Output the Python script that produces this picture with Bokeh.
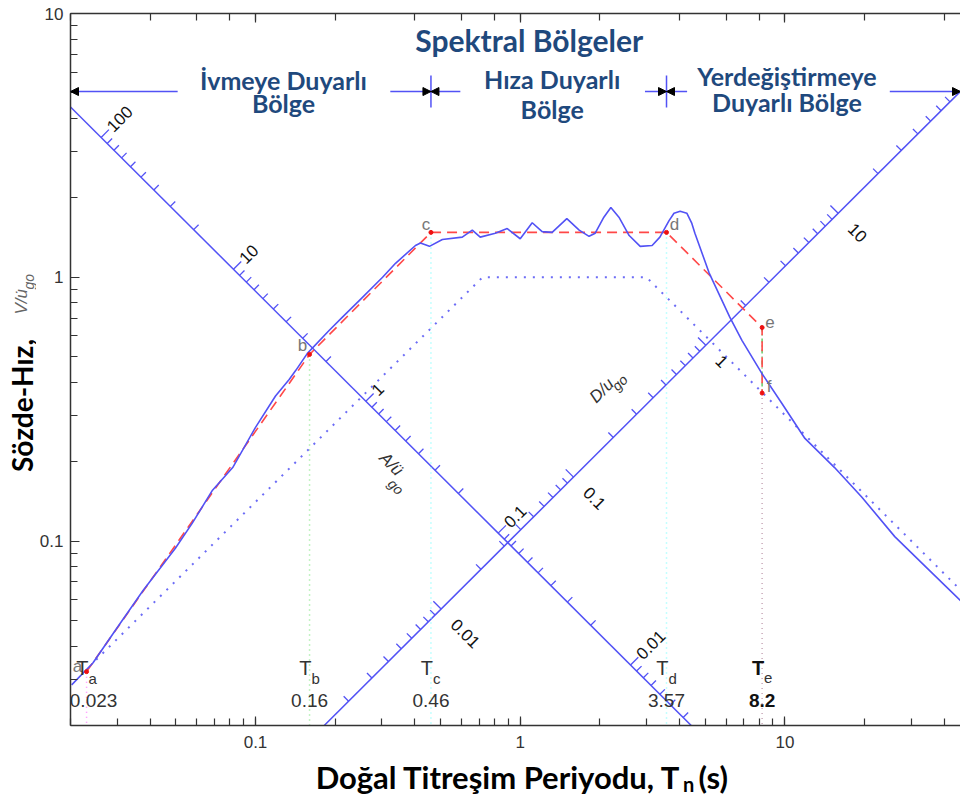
import math
from bokeh.plotting import figure
from bokeh.layouts import row, column
from bokeh.models import LogAxis, Arrow, NormalHead, CustomJSTickFormatter, Range1d
from bokeh.core.properties import value
from bokeh.embed import file_html
from bokeh.resources import INLINE

# ---------------- data ----------------
spec_T = [0.0202, 0.0243, 0.0296, 0.0376, 0.0498, 0.0577, 0.0688, 0.082, 0.100, 0.119,
          0.134, 0.142, 0.157, 0.190, 0.213, 0.247, 0.302, 0.338, 0.402, 0.420,
          0.454, 0.508, 0.604, 0.659, 0.706, 0.805, 0.893, 1.00, 1.11, 1.21,
          1.32, 1.50, 1.67, 1.82, 1.92, 2.07, 2.20, 2.36, 2.58, 2.84,
          3.15, 3.37, 3.65, 3.81, 4.02, 4.26, 4.45, 4.57, 5.17, 6.19,
          6.88, 8.17, 9.73, 11.9, 15.4, 19.5, 26.0, 34.9, 46.7]
spec_V = [0.0285, 0.0345, 0.046, 0.065, 0.094, 0.117, 0.156, 0.19, 0.27, 0.355,
          0.41, 0.444, 0.515, 0.63, 0.706, 0.818, 1.00, 1.13, 1.32, 1.35,
          1.31, 1.39, 1.42, 1.51, 1.42, 1.47, 1.53, 1.40, 1.61, 1.49,
          1.48, 1.67, 1.51, 1.43, 1.47, 1.69, 1.84, 1.69, 1.44, 1.31,
          1.32, 1.42, 1.64, 1.75, 1.78, 1.75, 1.60, 1.47, 1.04, 0.706,
          0.577, 0.433, 0.333, 0.245, 0.19, 0.147, 0.104, 0.078, 0.0587]

ideal_T = [0.023, 0.16, 0.46, 3.57, 8.2, 8.2]
ideal_V = [0.032, 0.51, 1.48, 1.48, 0.645, 0.364]
ideal_names = ["a", "b", "c", "d", "e", "f"]

ground_T = [0.025, 0.72, 3.0, 47.0]
ground_V = [0.0355, 1.0, 1.0, 0.064]

period_sub = ["a", "b", "c", "d", "e"]
period_T = [0.023, 0.16, 0.46, 3.57, 8.2]
period_txt = ["0.023", "0.16", "0.46", "3.57", "8.2"]
period_colors = ["#ff88ff", "#88e888", "#88ffff", "#88ffff", "#c8a8b8"]

A_line_const = 0.0885   # V*T along the A axis
A_scale = 0.77          # A = A_scale * V / T
D_line_const = 0.110    # V/T along the D axis
D_scale = 0.36          # D = D_scale * V * T
A_major = [100, 10, 1, 0.1, 0.01]
D_major = [0.01, 0.1, 1, 10]

region_V = 5.06
region_bounds = [0.46, 3.57]
region_gap_lo = [0.0508, 0.594, 4.27]
region_gap_hi = [0.323, 2.96, 24.9]

x_title = ["Doğal Titreşim Periyodu, T", "n", "(s)"]
y_title = ["Sözde-Hız,", "V/u\u0307", "go"]

# ---------------- geometry ----------------
TOT_W, TOT_H = 960, 796
LW = 36                 # left strip (y title)
BH = 38                 # bottom strip (x title)
MW, MH = TOT_W - LW, TOT_H - BH
ML, MR, MT, MB = 33, 0, 13, 33
FW, FH = MW - ML - MR, MH - MT - MB
PXX = 265.0
X0 = 0.02
X1 = X0 * 10 ** (FW / PXX)
Y0, Y1 = 0.02, 10.0
PXY = FH / math.log10(Y1 / Y0)
R2 = math.sqrt(2.0)


def shift(t, v, dx, dy):
    return t * 10 ** (dx / PXX), v * 10 ** (-dy / PXY)


def ref(xp, yp):
    return 10 ** ((xp - 518) / 265.0), 10 ** ((277 - yp) / 264.0)


BLUE = "#5252f5"
HEAD = "#1F497D"
NUMF = value("Liberation Sans")
HF = value("Lato")

p = figure(x_axis_type="log", y_axis_type="log", x_range=(X0, X1), y_range=(Y0, Y1),
           width=MW, height=MH, min_border_left=ML, min_border_right=MR,
           min_border_top=MT, min_border_bottom=MB, output_backend="svg",
           toolbar_location=None)
p.outline_line_color = None
p.grid.visible = False

fmt = CustomJSTickFormatter(code="return String(parseFloat(tick.toPrecision(6)));")
for ax in (p.xaxis[0], p.yaxis[0]):
    ax.formatter = fmt
    ax.major_tick_in = 9
    ax.major_tick_out = 0
    ax.minor_tick_in = 7
    ax.minor_tick_out = 0
    ax.axis_line_color = "#333333"
    ax.axis_line_width = 1.5
    ax.major_tick_line_color = "#333333"
    ax.minor_tick_line_color = "#333333"
    ax.major_tick_line_width = 1.2
    ax.minor_tick_line_width = 1.2
    ax.major_label_text_font = "Liberation Sans"
    ax.major_label_text_font_size = "17px"
    ax.major_label_text_color = "#333333"
p.xaxis[0].major_label_standoff = 10
p.yaxis[0].major_label_standoff = 7

top = LogAxis(major_tick_in=9, major_tick_out=0, minor_tick_in=7, minor_tick_out=0,
              axis_line_color="#333333", axis_line_width=1.5,
              major_tick_line_color="#333333", minor_tick_line_color="#333333",
              major_tick_line_width=1.2, minor_tick_line_width=1.2,
              major_label_text_font_size="1px", major_label_text_color=None,
              major_label_standoff=0)
p.add_layout(top, "above")

# ---------------- tripartite axes ----------------
tA = [X0, 6.0]
p.line(tA, [A_line_const / t for t in tA], color=BLUE, line_width=1.5)
tD = [0.15, 60.0]
p.line(tD, [D_line_const * t for t in tD], color=BLUE, line_width=1.5)

ax0, ay0, ax1, ay1 = [], [], [], []
dx0, dy0, dx1, dy1 = [], [], [], []
for k in range(-4, 4):
    for m in range(1, 10):
        val = m * 10 ** k
        L = 11 if m == 1 else 7
        t = math.sqrt(A_scale * A_line_const / val)
        v = A_line_const / t
        if X0 <= t <= X1 and Y0 <= v <= Y1:
            e = shift(t, v, L / R2, -L / R2)
            ax0.append(t); ay0.append(v); ax1.append(e[0]); ay1.append(e[1])
        t = math.sqrt(val / (D_scale * D_line_const))
        v = D_line_const * t
        if X0 <= t <= X1 and Y0 <= v <= Y1:
            e = shift(t, v, -L / R2, -L / R2)
            dx0.append(t); dy0.append(v); dx1.append(e[0]); dy1.append(e[1])
p.segment(ax0, ay0, ax1, ay1, color=BLUE, line_width=1.3)
p.segment(dx0, dy0, dx1, dy1, color=BLUE, line_width=1.3)

alx, aly, alt = [], [], []
for a in A_major:
    t = math.sqrt(A_scale * A_line_const / a)
    v = A_line_const / t
    q = shift(t, v, 12 / R2, -12 / R2)
    alx.append(q[0]); aly.append(q[1]); alt.append(f"{a:g}")
p.text(alx, aly, text=alt, angle=math.pi / 4, text_align="left", text_baseline="middle",
       text_font=NUMF, text_font_size="17px", text_color="#111111")

dlx, dly, dlt = [], [], []
for d in D_major:
    t = math.sqrt(d / (D_scale * D_line_const))
    v = D_line_const * t
    q = shift(t, v, 18 / R2, 18 / R2)
    dlx.append(q[0]); dly.append(q[1]); dlt.append(f"{d:g}")
p.text(dlx, dly, text=dlt, angle=-math.pi / 4, text_align="left", text_baseline="middle",
       text_font=NUMF, text_font_size="17px", text_color="#111111")

pA1 = ref(398, 473); pA2 = ref(388, 481)
p.text([pA1[0]], [pA1[1]], text=["A/ü"], angle=-math.pi / 4, text_align="right",
       text_baseline="middle", text_font=NUMF, text_font_style="italic",
       text_font_size="17px", text_color="#333333")
p.text([pA2[0]], [pA2[1]], text=["go"], angle=-math.pi / 4, text_align="left",
       text_baseline="middle", text_font=NUMF, text_font_style="italic",
       text_font_size="14px", text_color="#333333")
pD1 = ref(609, 381); pD2 = ref(612, 388)
p.text([pD1[0]], [pD1[1]], text=["D/u"], angle=math.pi / 4, text_align="right",
       text_baseline="middle", text_font=NUMF, text_font_style="italic",
       text_font_size="17px", text_color="#333333")
p.text([pD2[0]], [pD2[1]], text=["go"], angle=math.pi / 4, text_align="left",
       text_baseline="middle", text_font=NUMF, text_font_style="italic",
       text_font_size="14px", text_color="#333333")

# ---------------- period markers ----------------
for i, tp in enumerate(period_T):
    vtop = ideal_V[i] if i < 4 else ideal_V[5]
    p.line([tp, tp], [vtop, Y0], color=period_colors[i], line_width=1.5, line_dash="1 4")
p.line([ideal_T[4], ideal_T[5]], [ideal_V[4], ideal_V[5]], color="#66cc66",
       line_width=1.5, line_dash="4 3 1 3")

p.line(ground_T, ground_V, color=BLUE, line_width=2, line_dash="2 7", line_alpha=0.85)
p.line(ideal_T, ideal_V, color="#ff4848", line_width=1.6, line_dash="10 6")
p.line(spec_T, spec_V, color=BLUE, line_width=1.6)
p.scatter(ideal_T, ideal_V, size=4, color="#ee1111")

let_off = [(-9, -5), (-7, -9), (-5, -8), (8, -8), (8, -6), (7, -7)]
lx, ly = [], []
for i in range(6):
    q = shift(ideal_T[i], ideal_V[i], let_off[i][0], let_off[i][1])
    lx.append(q[0]); ly.append(q[1])
p.text(lx, ly, text=ideal_names, text_align="center", text_baseline="middle",
       text_font=NUMF, text_font_size="17px", text_color="#777777")

yT = ref(0, 668)[1]
ySub = ref(0, 678)[1]
yVal = ref(0, 701)[1]
tx = [shift(t, 1, 2, 0)[0] for t in period_T]
val_dx = [7, 0, 0, 0, 0]
vx = [shift(t, 1, val_dx[i], 0)[0] for i, t in enumerate(period_T)]
p.text(tx[:4], [yT] * 4, text=["T"] * 4, text_align="right", text_baseline="middle",
       text_font=NUMF, text_font_size="20px", text_color="#333333")
p.text(tx[:4], [ySub] * 4, text=period_sub[:4], text_align="left", text_baseline="middle",
       text_font=NUMF, text_font_size="15px", text_color="#333333")
p.text(vx[:4], [yVal] * 4, text=period_txt[:4], text_align="center",
       text_baseline="middle", text_font=NUMF, text_font_size="19px", text_color="#333333")
p.text(tx[4:], [yT], text=["T"], text_align="right", text_baseline="middle",
       text_font=NUMF, text_font_style="bold", text_font_size="20px", text_color="#111111")
p.text(tx[4:], [ySub], text=period_sub[4:], text_align="left", text_baseline="middle",
       text_font=NUMF, text_font_size="15px", text_color="#333333")
p.text(vx[4:], [yVal], text=period_txt[4:], text_align="center",
       text_baseline="middle", text_font=NUMF, text_font_style="bold",
       text_font_size="19px", text_color="#111111")

# ---------------- spectral regions header ----------------
seg_lo = [X0] + region_gap_hi
seg_hi = region_gap_lo + [X1]
p.segment(seg_lo, [region_V] * 4, seg_hi, [region_V] * 4, color=BLUE, line_width=1.5)
vb_top = ref(0, 75)[1]
vb_bot = ref(0, 107)[1]
p.segment(region_bounds, [vb_bot] * 2, region_bounds, [vb_top] * 2, color=BLUE, line_width=1.5)

tips = [(X0 * 1.3, X0), (region_bounds[0] / 1.1, region_bounds[0]),
        (region_bounds[0] * 1.1, region_bounds[0]), (region_bounds[1] / 1.1, region_bounds[1]),
        (region_bounds[1] * 1.1, region_bounds[1]), (X1 / 1.3, X1)]
for s, e in tips:
    p.add_layout(Arrow(end=NormalHead(size=8, fill_color="black", line_color="black",
                                      line_width=1),
                       x_start=s, y_start=region_V, x_end=e, y_end=region_V,
                       line_alpha=0))

tt = ref(527, 40)
p.text([tt[0]], [tt[1]], text=["Spektral Bölgeler"], text_align="center",
       text_baseline="middle", text_font=HF, text_font_style="bold",
       text_font_size="30px", text_color=HEAD)
reg_x = [281, 550, 785]
reg_l1 = ["İvmeye Duyarlı", "Hıza Duyarlı", "Yerdeğiştirmeye"]
reg_l2 = ["Bölge", "Bölge", "Duyarlı Bölge"]
reg_m1 = [79.5, 78.5, 75.5]
reg_m2 = [103, 108.5, 101.5]
for i in range(3):
    q1 = ref(reg_x[i], reg_m1[i]); q2 = ref(reg_x[i], reg_m2[i])
    p.text([q1[0]], [q1[1]], text=[reg_l1[i]], text_align="center", text_baseline="middle",
           text_font=HF, text_font_style="bold", text_font_size="25px", text_color=HEAD)
    p.text([q2[0]], [q2[1]], text=[reg_l2[i]], text_align="center", text_baseline="middle",
           text_font=HF, text_font_style="bold", text_font_size="25px", text_color=HEAD)


# ---------------- title strips (pixel coordinates) ----------------
def strip(w, h):
    f = figure(width=w, height=h, x_range=Range1d(0, w), y_range=Range1d(0, h),
               x_axis_location=None, y_axis_location=None, min_border=0,
               output_backend="svg", toolbar_location=None)
    f.outline_line_color = None
    f.grid.visible = False
    return f


left = strip(LW, TOT_H)
left.text([21], [TOT_H - 405], text=[y_title[0]], angle=math.pi / 2, text_align="center",
          text_baseline="middle", text_font=HF, text_font_style="bold",
          text_font_size="28px", text_color="black")
left.text([21], [TOT_H - 314], text=[y_title[1]], angle=math.pi / 2, text_align="left",
          text_baseline="middle", text_font=NUMF, text_font_style="italic",
          text_font_size="17px", text_color="#666666")
left.text([28], [TOT_H - 289], text=[y_title[2]], angle=math.pi / 2, text_align="left",
          text_baseline="middle", text_font=NUMF, text_font_style="italic",
          text_font_size="14px", text_color="#666666")

bottom = strip(MW, BH)
bottom.text([670 - LW], [TOT_H - 776], text=[x_title[0]], text_align="right",
            text_baseline="middle", text_font=HF, text_font_style="bold",
            text_font_size="31px", text_color="black")
bottom.text([672 - LW], [TOT_H - 783], text=[x_title[1]], text_align="left",
            text_baseline="middle", text_font=HF, text_font_style="bold",
            text_font_size="20px", text_color="black")
bottom.text([688 - LW], [TOT_H - 776], text=[x_title[2]], text_align="left",
            text_baseline="middle", text_font=HF, text_font_style="bold",
            text_font_size="31px", text_color="black")

layout = row(left, column(p, bottom, spacing=0), spacing=0)
open("out.html", "w").write(file_html(layout, INLINE))
